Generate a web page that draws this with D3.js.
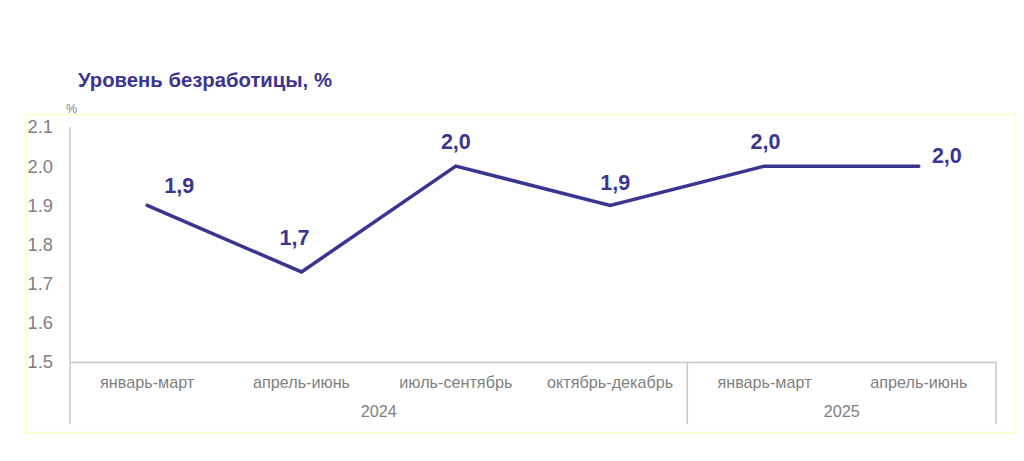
<!DOCTYPE html>
<html lang="ru">
  <head>
    <meta charset="UTF-8" />
    <title>Уровень безработицы, %</title>
    <script src="https://d3js.org/d3.v7.min.js"></script>
    <style>
      body {
        margin: 0;
        background: #ffffff;
        font-family: "Liberation Sans", Arial, sans-serif;
      }
    </style>
  </head>
  <body>
    <div id="viz"></div>
    <script>
      // data
      const quarters = [
        "январь-март",
        "апрель-июнь",
        "июль-сентябрь",
        "октябрь-декабрь",
        "январь-март",
        "апрель-июнь",
      ];
      const years = ["2024", "2024", "2024", "2024", "2025", "2025"];
      const unemployment = [1.9, 1.73, 2.0, 1.9, 2.0, 2.0];
      const valueLabels = ["1,9", "1,7", "2,0", "1,9", "2,0", "2,0"];
      const yTicks = [1.5, 1.6, 1.7, 1.8, 1.9, 2.0, 2.1];

      // label placement (dx, dy from the point)
      const labelShift = [
        [32, -12],
        [-7, -27],
        [0, -17],
        [5, -15],
        [1, -17],
        [28, -3],
      ];

      const W = 1024,
        H = 461;
      const margin = { top: 127, right: 28, bottom: 99, left: 70 };
      const width = W - margin.left - margin.right,
        height = H - margin.top - margin.bottom;

      const svg = d3
        .select("#viz")
        .append("svg")
        .attr("width", W)
        .attr("height", H);

      // pale yellow frame
      svg
        .append("rect")
        .attr("x", 26.5)
        .attr("y", 114.5)
        .attr("width", 989)
        .attr("height", 318)
        .attr("fill", "none")
        .attr("stroke", "#ffffc4")
        .attr("stroke-width", 1.5);

      svg
        .append("text")
        .attr("x", 78)
        .attr("y", 87)
        .attr("fill", "#3b3590")
        .style("font-size", "20.3px")
        .style("font-weight", "bold")
        .text("Уровень безработицы, %");

      svg
        .append("text")
        .attr("x", 66)
        .attr("y", 113)
        .attr("fill", "#7f7f7f")
        .style("font-size", "12.5px")
        .text("%");

      const g = svg
        .append("g")
        .attr("transform", `translate(${margin.left},${margin.top})`);

      const idx = d3.range(quarters.length);
      const x = d3.scaleBand().domain(idx).range([0, width]);
      const y = d3.scaleLinear().domain([1.5, 2.1]).range([height, 0]);

      // y axis labels
      const yAxis = g
        .append("g")
        .call(
          d3
            .axisLeft(y)
            .tickValues(yTicks)
            .tickFormat(d3.format(".1f"))
            .tickSize(0)
            .tickPadding(17)
        );
      yAxis.select(".domain").remove();
      yAxis
        .selectAll("text")
        .attr("fill", "#7f7f7f")
        .style("font-size", "18.3px")
        .style("font-family", "'Liberation Sans', Arial, sans-serif");

      const axisColor = "#c8c8c8";
      // left vertical axis line
      g.append("line")
        .attr("x1", 0)
        .attr("x2", 0)
        .attr("y1", 0)
        .attr("y2", height + 62)
        .attr("stroke", axisColor)
        .attr("stroke-width", 1.5);

      // x axis
      const xAxis = g
        .append("g")
        .attr("transform", `translate(0,${height})`)
        .call(
          d3
            .axisBottom(x)
            .tickFormat((i) => quarters[i])
            .tickSize(0)
            .tickPadding(14)
        );
      xAxis.select(".domain").attr("stroke", axisColor).attr("stroke-width", 1.5);
      xAxis
        .selectAll("text")
        .attr("fill", "#7f7f7f")
        .style("font-size", "16.2px")
        .style("font-family", "'Liberation Sans', Arial, sans-serif");

      // year groups
      const yearGroups = d3.groups(idx, (i) => years[i]);
      yearGroups.forEach(([yr, ids]) => {
        const x0 = x(ids[0]);
        const x1 = x(ids[ids.length - 1]) + x.bandwidth();
        g.append("line")
          .attr("x1", x1)
          .attr("x2", x1)
          .attr("y1", height)
          .attr("y2", height + 62)
          .attr("stroke", axisColor)
          .attr("stroke-width", 1.5);
        g.append("text")
          .attr("x", (x0 + x1) / 2)
          .attr("y", height + 55)
          .attr("text-anchor", "middle")
          .attr("fill", "#7f7f7f")
          .style("font-size", "16.2px")
          .text(yr);
      });

      // line
      const line = d3
        .line()
        .x((i) => x(i) + x.bandwidth() / 2)
        .y((i) => y(unemployment[i]));

      g.append("path")
        .datum(idx)
        .attr("d", line)
        .attr("fill", "none")
        .attr("stroke", "#3b3592")
        .attr("stroke-width", 3.5)
        .attr("stroke-linejoin", "miter")
        .attr("stroke-linecap", "round");

      // value labels
      g.selectAll(".val")
        .data(idx)
        .join("text")
        .attr("class", "val")
        .attr("x", (i) => x(i) + x.bandwidth() / 2 + labelShift[i][0])
        .attr("y", (i) => y(unemployment[i]) + labelShift[i][1])
        .attr("text-anchor", "middle")
        .attr("fill", "#3b3590")
        .style("font-size", "21.5px")
        .style("font-weight", "bold")
        .text((i) => valueLabels[i]);
    </script>
  </body>
</html>
